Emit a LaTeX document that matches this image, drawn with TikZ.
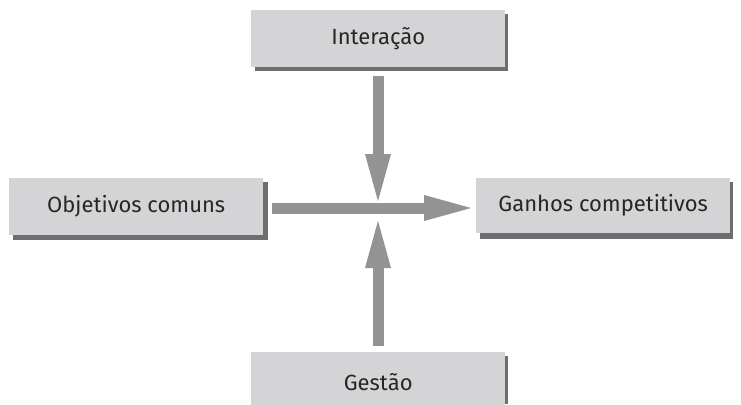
\documentclass[tikz,border=0pt]{standalone}
\usepackage{fontspec}
\setmainfont{Fira Sans}
\usetikzlibrary{arrows.meta}
\definecolor{boxfill}{HTML}{D4D4D6}
\definecolor{boxshadow}{HTML}{6E6E70}
\definecolor{arrowgray}{HTML}{939395}
\definecolor{textdark}{HTML}{262626}
\begin{document}
\begin{tikzpicture}[x=1pt,y=-1pt,
  box/.style={fill=boxfill, text=textdark, font=\fontsize{22}{26}\selectfont,
    inner sep=0pt, anchor=north west},
  bigarrow/.style={draw=arrowgray, line width=11pt,
    -{Triangle[length=54pt,width=22pt]}}]
\useasboundingbox (0,0) rectangle (741,404);
% shadows
\fill[boxshadow] (255,14) rectangle (508,71);
\fill[boxshadow] (13,182) rectangle (268,240);
\fill[boxshadow] (480,182) rectangle (733,239);
\fill[boxshadow] (255,356) rectangle (508,404);
% boxes
\node[box, minimum width=254pt, minimum height=57pt] (int) at (251,10) {Interação};
\node[box, minimum width=254pt, minimum height=57pt] (obj) at (9,178) {Objetivos comuns};
\node[box, minimum width=254pt, minimum height=55pt] (gan) at (476,178) {Ganhos competitivos};
\node[box, minimum width=254pt, minimum height=60pt] (ges) at (251,352) {\raisebox{-3pt}{Gestão}};
% centre
\coordinate (ctop) at (378,208);
\coordinate (cbot) at (378,214);
\coordinate (hstart) at (272,208);
\coordinate (hend) at (478,208);
\coordinate (vtop) at (378,76);
\coordinate (vbot) at (378,346);
% arrows
\draw[bigarrow] (hstart) -- (hend);
\draw[bigarrow] (vtop) -- (ctop);
\draw[bigarrow] (vbot) -- (cbot);
\end{tikzpicture}
\end{document}
